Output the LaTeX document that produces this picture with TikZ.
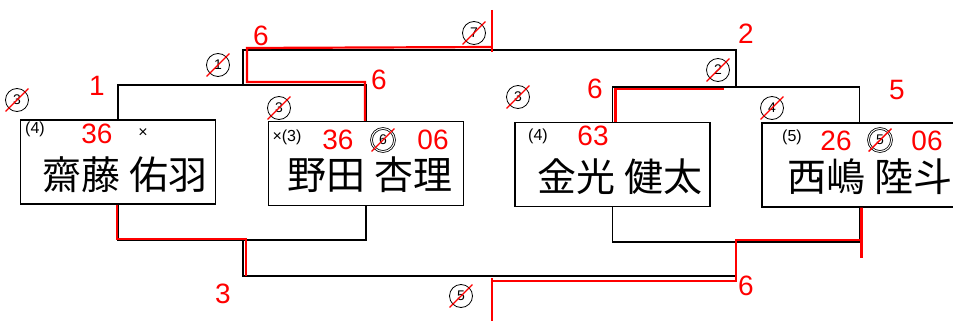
\documentclass[tikz,border=0pt]{standalone}
\usepackage{fontspec}
\setmainfont{Liberation Sans}
\newfontfamily\jpfont{Noto Sans CJK JP}
\usetikzlibrary{calc}

\begin{document}
\begin{tikzpicture}[x=1pt,y=-1pt]
                      \tikzstyle{player}=[draw=black,line width=1.4pt,minimum width=195pt,minimum height=84pt,inner sep=0pt]
                      \tikzstyle{kanji}=[font=\jpfont\fontsize{39}{39}\selectfont]
                      \tikzstyle{score}=[red,font=\fontsize{28}{28}\selectfont]
                      \tikzstyle{note}=[black,font=\fontsize{16}{16}\selectfont]
                      \tikzstyle{seed}=[circle,draw=black,line width=0.8pt,inner sep=1pt,minimum size=23pt,font=\fontsize{14}{14}\selectfont]
                      \tikzstyle{win}=[red,line width=2.2pt]
                      \tikzstyle{strike}=[red,line width=1.4pt]
                      \useasboundingbox (0,0) rectangle (953,321);
                      \fill[white] (0,0) rectangle (953,321);
                      % boxes
                      \node[player] (a) at (118,162) {};
                      \node[player] (b) at (366,163.5) {};
                      \node[player] (c) at (612.5,164.5) {};
                      \node[player] (d) at (859.5,165) {};
                      \node[kanji] (na) at (125,175) {齋藤 佑羽};
                      \node[kanji] (nb) at (370,175) {野田 杏理};
                      \node[kanji] (nc) at (620,177) {金光 健太};
                      \node[kanji] (nd) at (870,177) {西嶋 陸斗};
                      % bracket
                      \coordinate (ab1) at (243,85);
                      \coordinate (ab2) at (243,240);
                      \coordinate (cd1) at (736,87);
                      \coordinate (cd2) at (736,242);
                      \coordinate (top) at (243,50);
                      \coordinate (bot) at (243,276);
                      \coordinate (mt) at (492,50);
                      \coordinate (mb) at (492,276);
                      \draw[line width=1.4pt] (a.north) |- (ab1) -| (b.north);
                      \draw[line width=1.4pt] (a.south) |- (ab2) -| (b.south);
                      \draw[line width=1.4pt] (c.north) |- (cd1) -| (d.north);
                      \draw[line width=1.4pt] (c.south) |- (cd2) -| (d.south);
                      \draw[line width=1.4pt] (ab1) -- (top) -| (cd1);
                      \draw[line width=1.4pt] (ab2) -- (bot) -| (cd2);
                      % winners
                      \draw[win] ([xshift=-1pt]b.north) |- ([shift={(4,-3)}]ab1) -- ([shift={(4,-2)}]top) -- ([yshift=3pt]mt);
                      \draw[win] ([yshift=40pt]mt) -- ([yshift=-2pt]mt);
                      \draw[win] ([xshift=-1pt]a.south) |- ([shift={(3,-1)}]ab2) -- ([xshift=3pt]bot);
                      \draw[win] ([xshift=3pt]c.north) |- ([shift={(-12,2)}]cd1);
                      \draw[win] ([yshift=-5pt]mb) -| ([yshift=2pt]cd2) -| ([xshift=2pt]d.south) -- ([shift={(2,50)}]d.south);
                      \draw[win] ([yshift=-2pt]mb) -- ([yshift=-45pt]mb);
                      % seeds
                      \node[seed] (s1) at (17,100) {3};
                      \node[seed] (s2) at (218,65) {1};
                      \node[seed] (s3) at (279,108) {3};
                      \node[seed] (s4) at (474,33) {7};
                      \node[seed] (s5) at (518,97) {3};
                      \node[seed] (s6) at (718,70) {2};
                      \node[seed] (s7) at (772,108) {4};
                      \node[seed] (s8) at (461,296) {5};
                      \node[seed,double,double distance=1pt] (s9) at (383,140) {6};
                      \node[seed,double,double distance=1pt] (s10) at (880,140) {5};
                      \foreach \s in {s1,s2,s3,s4,s5,s6,s7,s8,s9,s10}
                        \draw[strike] ([shift={(-3,3)}]\s.south west) -- ([shift={(3,-3)}]\s.north east);
                      % notes in boxes
                      \node[note] (p1) at (35,129) {(4)};
                      \node[note] (x1) at (143,133) {×};
                      \node[note] (p2) at (287,137) {×(3)};
                      \node[note] (p3) at (538,136) {(4)};
                      \node[note] (p4) at (792,137) {(5)};
                      % scores
                      \node[score] (r1) at (97,134) {36};
                      \node[score] (r2) at (338,140) {36};
                      \node[score] (r3) at (433,140) {06};
                      \node[score] (r4) at (593,136) {63};
                      \node[score] (r5) at (836,141) {26};
                      \node[score] (r6) at (927,141) {06};
                      \node[score] (q1) at (97,86) {1};
                      \node[score] (q2) at (261,36) {6};
                      \node[score] (q3) at (379,80) {6};
                      \node[score] (q4) at (595,89) {6};
                      \node[score] (q5) at (746,34) {2};
                      \node[score] (q6) at (897,90) {5};
                      \node[score] (q7) at (223,294) {3};
                      \node[score] (q8) at (746,286) {6};
                  \end{tikzpicture}
\end{document}
